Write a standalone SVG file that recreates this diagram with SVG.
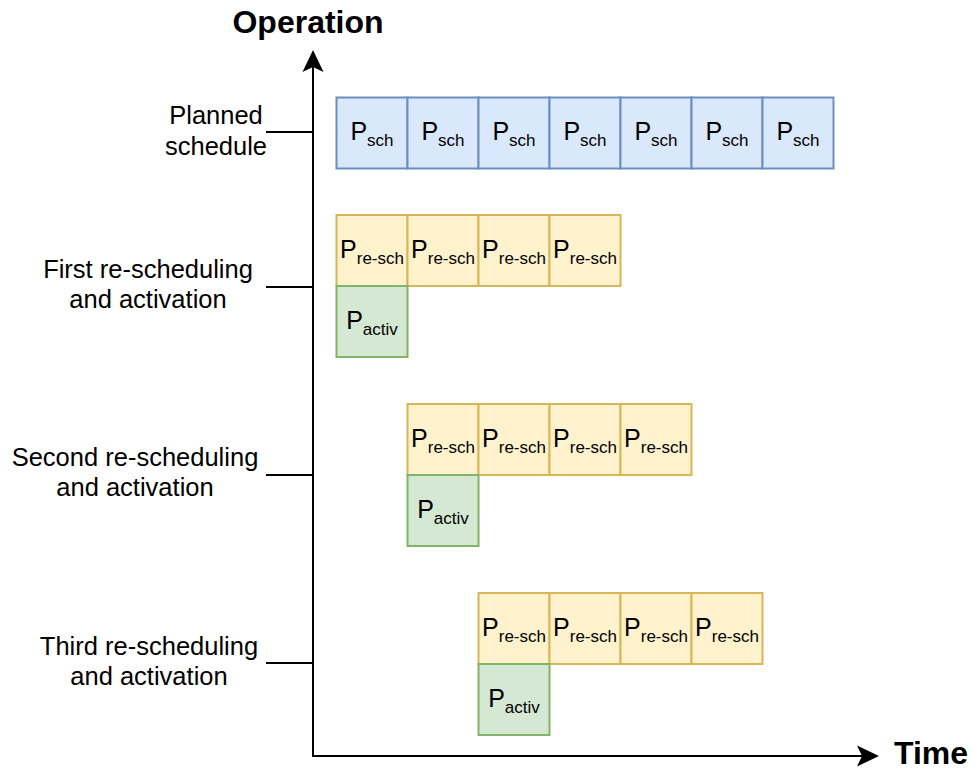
<svg xmlns="http://www.w3.org/2000/svg" width="975" height="771" viewBox="0 0 975 771">
<style>
text{font-family:"Liberation Sans",Arial,sans-serif;fill:#000}
.lbl{font-size:25.5px;text-anchor:middle}
.ax{font-size:32px;font-weight:bold}
.bx{font-size:25px;text-anchor:middle}
.sub{font-size:17px}
.sch{fill:#dae8fc;stroke:#6c8ebf;stroke-width:2}
.rs{fill:#fff2cc;stroke:#d6b656;stroke-width:2}
.ac{fill:#d5e8d4;stroke:#82b366;stroke-width:2}
.ln{stroke:#000;stroke-width:2;fill:none}
</style>
<rect width="975" height="771" fill="#fff"/>
<g id="connectors">
<path class="ln" d="M313,756 V64"/>
<polygon points="313,50 302.5,72 313,67 323.5,72" fill="#000"/>
<path class="ln" d="M312,756 H866"/>
<polygon points="879,756 857,745.5 862,756 857,766.5" fill="#000"/>
<path class="ln" d="M266,132 H313"/>
<path class="ln" d="M266,287 H313"/>
<path class="ln" d="M266,475 H313"/>
<path class="ln" d="M266,663 H313"/>
</g>
<g id="axis-labels">
<text class="ax" x="308" y="33" text-anchor="middle">Operation</text>
<text class="ax" x="894" y="764">Time</text>
</g>
<g id="row-labels">
<text class="lbl" x="216" y="124">Planned</text>
<text class="lbl" x="216" y="155">schedule</text>
<text class="lbl" x="148" y="278">First re-scheduling</text>
<text class="lbl" x="148" y="308">and activation</text>
<text class="lbl" x="135" y="466">Second re-scheduling</text>
<text class="lbl" x="135" y="496">and activation</text>
<text class="lbl" x="149" y="655">Third re-scheduling</text>
<text class="lbl" x="149" y="685">and activation</text>
</g>
<g id="planned">
<rect class="sch" x="336.5" y="97.5" width="71" height="71"/><text class="bx" x="372" y="140">P<tspan class="sub" dy="6">sch</tspan></text>
<rect class="sch" x="407.5" y="97.5" width="71" height="71"/><text class="bx" x="443" y="140">P<tspan class="sub" dy="6">sch</tspan></text>
<rect class="sch" x="478.5" y="97.5" width="71" height="71"/><text class="bx" x="514" y="140">P<tspan class="sub" dy="6">sch</tspan></text>
<rect class="sch" x="549.5" y="97.5" width="71" height="71"/><text class="bx" x="585" y="140">P<tspan class="sub" dy="6">sch</tspan></text>
<rect class="sch" x="620.5" y="97.5" width="71" height="71"/><text class="bx" x="656" y="140">P<tspan class="sub" dy="6">sch</tspan></text>
<rect class="sch" x="691.5" y="97.5" width="71" height="71"/><text class="bx" x="727" y="140">P<tspan class="sub" dy="6">sch</tspan></text>
<rect class="sch" x="762.5" y="97.5" width="71" height="71"/><text class="bx" x="798" y="140">P<tspan class="sub" dy="6">sch</tspan></text>
</g>
<g id="first">
<rect class="rs" x="336.5" y="215" width="71" height="71"/><text class="bx" x="372" y="258">P<tspan class="sub" dy="6">re-sch</tspan></text>
<rect class="rs" x="407.5" y="215" width="71" height="71"/><text class="bx" x="443" y="258">P<tspan class="sub" dy="6">re-sch</tspan></text>
<rect class="rs" x="478.5" y="215" width="71" height="71"/><text class="bx" x="514" y="258">P<tspan class="sub" dy="6">re-sch</tspan></text>
<rect class="rs" x="549.5" y="215" width="71" height="71"/><text class="bx" x="585" y="258">P<tspan class="sub" dy="6">re-sch</tspan></text>
<rect class="ac" x="336.5" y="286" width="71" height="71"/><text class="bx" x="372" y="329">P<tspan class="sub" dy="6">activ</tspan></text>
</g>
<g id="second">
<rect class="rs" x="407.5" y="404" width="71" height="71"/><text class="bx" x="443" y="447">P<tspan class="sub" dy="6">re-sch</tspan></text>
<rect class="rs" x="478.5" y="404" width="71" height="71"/><text class="bx" x="514" y="447">P<tspan class="sub" dy="6">re-sch</tspan></text>
<rect class="rs" x="549.5" y="404" width="71" height="71"/><text class="bx" x="585" y="447">P<tspan class="sub" dy="6">re-sch</tspan></text>
<rect class="rs" x="620.5" y="404" width="71" height="71"/><text class="bx" x="656" y="447">P<tspan class="sub" dy="6">re-sch</tspan></text>
<rect class="ac" x="407.5" y="475" width="71" height="71"/><text class="bx" x="443" y="518">P<tspan class="sub" dy="6">activ</tspan></text>
</g>
<g id="third">
<rect class="rs" x="478.5" y="593" width="71" height="71"/><text class="bx" x="514" y="636">P<tspan class="sub" dy="6">re-sch</tspan></text>
<rect class="rs" x="549.5" y="593" width="71" height="71"/><text class="bx" x="585" y="636">P<tspan class="sub" dy="6">re-sch</tspan></text>
<rect class="rs" x="620.5" y="593" width="71" height="71"/><text class="bx" x="656" y="636">P<tspan class="sub" dy="6">re-sch</tspan></text>
<rect class="rs" x="691.5" y="593" width="71" height="71"/><text class="bx" x="727" y="636">P<tspan class="sub" dy="6">re-sch</tspan></text>
<rect class="ac" x="478.5" y="664" width="71" height="71"/><text class="bx" x="514" y="707">P<tspan class="sub" dy="6">activ</tspan></text>
</g>
</svg>
